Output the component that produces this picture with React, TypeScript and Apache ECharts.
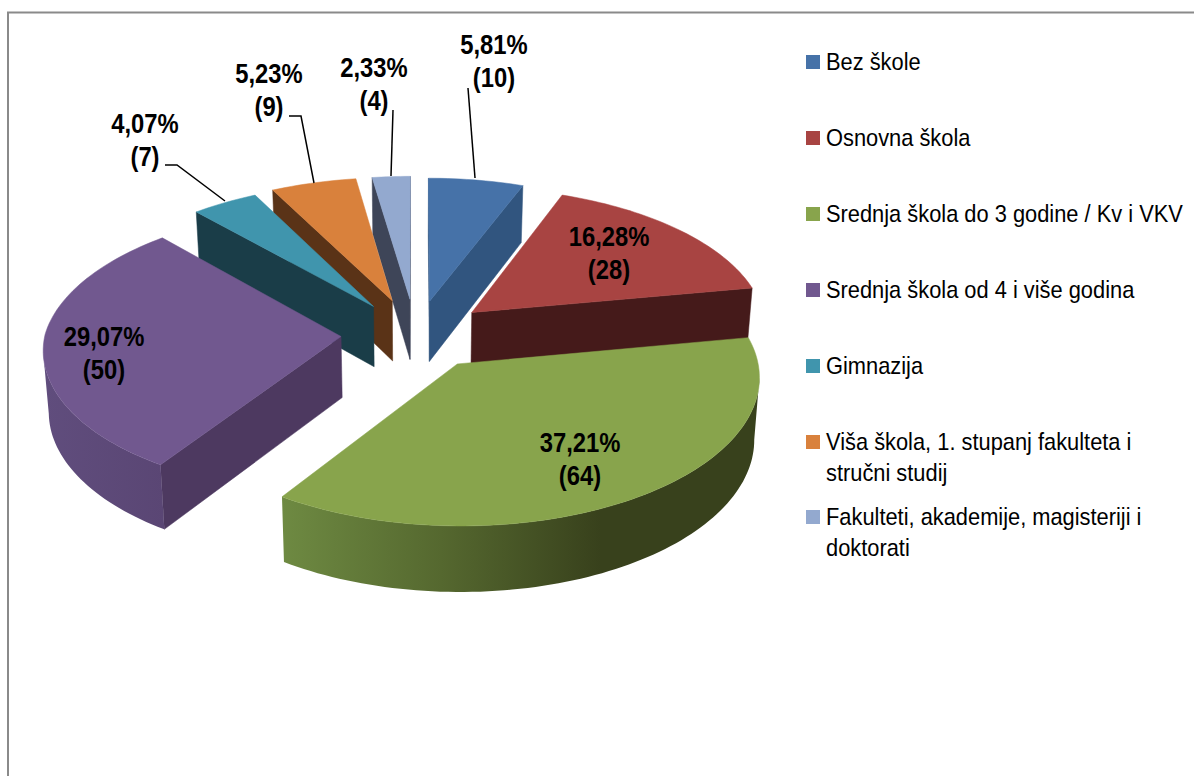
import React, { useEffect, useRef } from "react";
import * as echarts from "echarts";

const categories = [
  "Bez škole",
  "Osnovna škola",
  "Srednja škola do 3 godine / Kv i VKV",
  "Srednja škola od 4 i više godina",
  "Gimnazija",
  "Viša škola, 1. stupanj fakulteta i stručni studij",
  "Fakulteti, akademije, magisteriji i doktorati",
];
const legendFirstLines = [
  "Bez škole",
  "Osnovna škola",
  "Srednja škola do 3 godine / Kv i VKV",
  "Srednja škola od 4 i više godina",
  "Gimnazija",
  "Viša škola, 1. stupanj fakulteta i",
  "Fakulteti, akademije, magisteriji i",
];
const legendSecondLines = ["", "", "", "", "", "stručni studij", "doktorati"];
const values = [10, 28, 64, 50, 7, 9, 4];
const topColors = ["#4672a8", "#a84442", "#88a44c", "#71588f", "#4095ad", "#d9813c", "#93a9cf"];
const wallColors = ["#31557f", "#451a1a", "#38411c", "#4d3960", "#1a3d48", "#5a3317", "#3e4558"];
const rimStops: string[][] = [
  ["#31557f", "#31557f"],
  ["#451a1a", "#451a1a"],
  ["#6e8a42", "#55682f", "#38411c", "#38411c"],
  ["#604d7d", "#5a4674"],
  ["#1a3d48", "#1a3d48"],
  ["#5a3317", "#5a3317"],
  ["#3e4558", "#3e4558"],
];
const drawOrder = [6, 5, 4, 0, 1, 3, 2];
const sliceNudges = [
  [2, 0],
  [3, 0],
  [2.5, 1],
  [-3, 0],
  [-2, 0],
  [-1.5, -1.5],
  [0, -1.5],
];

// layout of the 3D projection
const CX = 415;
const CY = 334;
const R = 296;
const EXPLODE = 0.24;
const TILT = 0.48;
const PERSP = 0.103;
const DEPTH = 61;

const FONT = "'Liberation Sans', Arial, sans-serif";
const LABEL_SIZE = 28;
const LABEL_LINE = 33.5;
const LABEL_SCALE = 0.85;

// label centres (x, y of the first line) and leader lines, in page pixels
const labelCentres = [
  [494, 44],
  [609, 236],
  [580, 442],
  [104, 336],
  [145, 123],
  [269, 73],
  [374, 67],
];
const leaders: number[][][] = [
  [[468, 88], [475, 178]],
  [],
  [],
  [],
  [[165, 165], [177, 165], [225, 201]],
  [[289, 116], [301, 116], [314, 183]],
  [[393, 110], [391, 176]],
];

const LEGEND_MARK_X = 806;
const LEGEND_MARK_SIZE = 14;
const LEGEND_TEXT_X = 826;
const legendRows = [62, 138, 214, 290, 366, 442, 517];
const legendSecondRows = [0, 0, 0, 0, 0, 473, 548];
const LEGEND_SIZE = 24;
const LEGEND_SCALE = 0.91;

const total = values.reduce((a, b) => a + b, 0);

function startAngle(i: number) {
  let s = 0;
  for (let k = 0; k < i; k++) s += values[k];
  return (s / total) * Math.PI * 2;
}

function project(i: number, u: number, v: number, bottom: boolean) {
  const s = 1 / (1 - PERSP * v);
  const sx = v < 0 ? s : 1 + (s - 1) * 0.77;
  const sy = v < 0 ? s : 1 + (s - 1) * 0.85;
  const x = CX + R * u * sx + sliceNudges[i][0];
  const y = CY + R * v * TILT * sy + sliceNudges[i][1];
  if (!bottom) return [x, y];
  return [CX + (x - CX) * 0.985, y + DEPTH * Math.pow(s, 0.6)];
}

function sliceItem(i: number, value: number) {
  const a0 = startAngle(i);
  const a1 = a0 + (value / total) * Math.PI * 2;
  const mid = (a0 + a1) / 2;
  const ou = EXPLODE * Math.sin(mid);
  const ov = -EXPLODE * Math.cos(mid);
  const n = Math.max(8, Math.round((a1 - a0) * 40));
  const rimPlane: number[][] = [];
  for (let k = 0; k <= n; k++) {
    const a = a0 + ((a1 - a0) * k) / n;
    rimPlane.push([ou + Math.sin(a), ov - Math.cos(a)]);
  }
  const top = rimPlane.map((p) => project(i, p[0], p[1], false));
  const bot = rimPlane.map((p) => project(i, p[0], p[1], true));
  const apexT = project(i, ou, ov, false);
  const apexB = project(i, ou, ov, true);
  const children: any[] = [];

  // radial walls, visible when the clockwise edge runs leftwards
  const wall = (a: number[], b: number[], c: number[], d: number[]) =>
    children.push({
      type: "polygon",
      shape: { points: [a, b, c, d] },
      style: { fill: wallColors[i], stroke: wallColors[i], lineWidth: 0.5 },
      z2: 1,
    });
  if (top[0][0] < apexT[0]) wall(apexT, top[0], bot[0], apexB);
  if (apexT[0] < top[n][0]) wall(top[n], apexT, apexB, bot[n]);

  // outer rim: the run of arc edges facing the viewer
  let from = -1;
  let to = -1;
  for (let k = 0; k < n; k++) {
    if (top[k + 1][0] < top[k][0]) {
      if (from < 0) from = k;
      to = k + 1;
    }
  }
  if (from >= 0) {
    const stops = rimStops[i];
    const upper = top.slice(from, to + 1);
    const lower = bot.slice(from, to + 1).reverse();
    children.push({
      type: "polygon",
      shape: { points: upper.concat(lower) },
      style: {
        fill: {
          type: "linear",
          x: 1,
          y: 0,
          x2: 0,
          y2: 0,
          colorStops: stops
            .slice()
            .reverse()
            .map((c, j) => ({ offset: j / (stops.length - 1), color: c })),
        },
      },
      z2: 2,
    });
  }

  // top face
  children.push({
    type: "polygon",
    shape: { points: [apexT].concat(top) },
    style: { fill: topColors[i], stroke: topColors[i], lineWidth: 0.5 },
    z2: 3,
  });
  return { type: "group", children };
}

function labelItem(i: number, value: number) {
  const pct = ((value / total) * 100).toFixed(2).replace(".", ",") + "%";
  const [x, y] = labelCentres[i];
  const line = (text: string, ty: number) => ({
    type: "text",
    x,
    y: ty,
    scaleX: LABEL_SCALE,
    style: {
      text,
      fill: "#000",
      font: `bold ${LABEL_SIZE}px ${FONT}`,
      align: "center",
      verticalAlign: "middle",
    },
  });
  const children: any[] = [line(pct, y), line(`(${value})`, y + LABEL_LINE)];
  if (leaders[i].length) {
    children.push({
      type: "polyline",
      shape: { points: leaders[i] },
      style: { stroke: "#000", lineWidth: 1.5, fill: "none" },
    });
  }
  return { type: "group", children };
}

function legendText(text: string, y: number) {
  return {
    type: "text",
    x: LEGEND_TEXT_X,
    y,
    scaleX: LEGEND_SCALE,
    silent: true,
    style: {
      text,
      fill: "#000",
      font: `${LEGEND_SIZE}px ${FONT}`,
      verticalAlign: "middle",
    },
  };
}

export default function App() {
  const ref = useRef<HTMLDivElement>(null);
  useEffect(() => {
    const chart = echarts.init(ref.current!, undefined, { renderer: "svg" });
    const series: any[] = categories.map((name, i) => ({
      type: "custom",
      name,
      coordinateSystem: "none",
      silent: true,
      z: 2 + drawOrder.indexOf(i),
      itemStyle: { color: topColors[i] },
      data: [[values[i]]],
      renderItem: (_p: any, api: any) => sliceItem(i, api.value(0)),
    }));
    series.push({
      type: "custom",
      name: "labels",
      coordinateSystem: "none",
      silent: true,
      z: 20,
      data: values.map((v) => [v]),
      renderItem: (p: any, api: any) => labelItem(p.dataIndex, api.value(0)),
    });
    chart.setOption({
      animation: false,
      backgroundColor: "#fff",
      graphic: [
        {
          type: "rect",
          shape: { x: 8, y: 12.5, width: 1400, height: 1000 },
          style: { fill: "none", stroke: "#8a8a8a", lineWidth: 2 },
          silent: true,
        },
        ...legendFirstLines.flatMap((t, i) => [
          {
            type: "rect",
            silent: true,
            shape: {
              x: LEGEND_MARK_X,
              y: legendRows[i] - LEGEND_MARK_SIZE / 2,
              width: LEGEND_MARK_SIZE,
              height: LEGEND_MARK_SIZE,
            },
            style: { fill: topColors[i] },
          },
          legendText(t, legendRows[i]),
          ...(legendSecondLines[i] ? [legendText(legendSecondLines[i], legendSecondRows[i])] : []),
        ]),
      ],
      series,
    });
    return () => chart.dispose();
  }, []);
  return (
    <div
      ref={ref}
      style={{ position: "absolute", left: 0, top: 0, width: 1194, height: 776 }}
    />
  );
}
